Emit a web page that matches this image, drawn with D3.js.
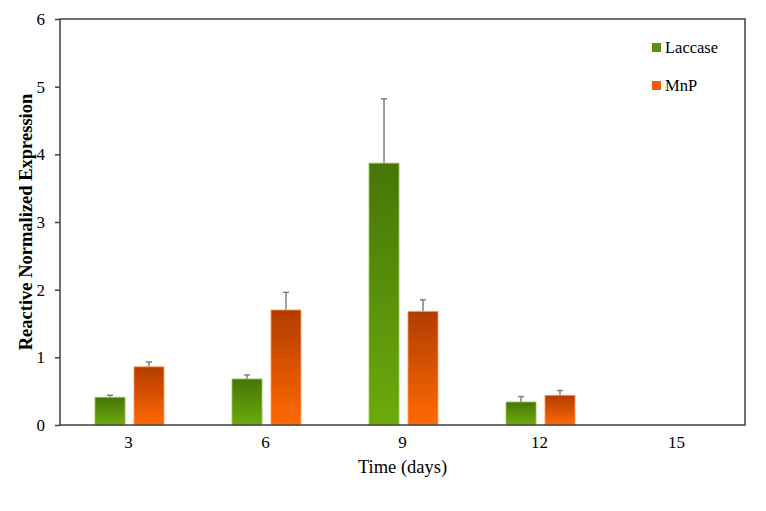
<!DOCTYPE html>
<html>
<head>
<meta charset="utf-8">
<script src="https://cdn.jsdelivr.net/npm/d3@7"></script>
<style>
  body { margin: 0; background: #fff; }
  svg { display: block; }
</style>
</head>
<body>
<script>
// chart data
var days = ["3", "6", "9", "12", "15"];
var series = ["Laccase", "MnP"];
var laccase = [0.41, 0.68, 3.87, 0.34, 0];
var laccaseErr = [0.03, 0.06, 0.95, 0.08, 0];
var mnp = [0.86, 1.70, 1.68, 0.44, 0];
var mnpErr = [0.07, 0.26, 0.17, 0.07, 0];
var yTicks = [0, 1, 2, 3, 4, 5, 6];

var width = 766, height = 511;
var plotLeft = 60, plotRight = 745, plotTop = 19, plotBottom = 425;
var font = "'Liberation Serif', 'Times New Roman', serif";

var svg = d3.select("body").append("svg")
    .attr("width", width)
    .attr("height", height);

var defs = svg.append("defs");
function grad(id, c1, c2) {
    var g = defs.append("linearGradient")
        .attr("id", id)
        .attr("x1", 0).attr("y1", 0)
        .attr("x2", 0).attr("y2", 1);
    g.append("stop").attr("offset", "0%").attr("stop-color", c1);
    g.append("stop").attr("offset", "100%").attr("stop-color", c2);
}
grad("gGreen", "#467508", "#6cab0c");
grad("gOrange", "#b23c00", "#ff6a00");

var fills = { Laccase: "url(#gGreen)", MnP: "url(#gOrange)" };
var strokes = { Laccase: "#9cc84a", MnP: "#ffa060" };
var legendColors = { Laccase: "#5a8f12", MnP: "#f25a10" };

var x = d3.scaleBand().domain(days).range([plotLeft, plotRight]);
var xs = d3.scaleBand().domain(series).range([35, 104]).paddingInner(0.23);
var y = d3.scaleLinear().domain([0, 6]).range([plotBottom, plotTop]);

var rows = days.map(function(d, i) {
    return [
        { day: d, key: "Laccase", v: laccase[i], e: laccaseErr[i] },
        { day: d, key: "MnP", v: mnp[i], e: mnpErr[i] }
    ];
});

var groups = svg.selectAll("g.grp")
    .data(rows)
    .enter().append("g")
    .attr("class", "grp")
    .attr("transform", function(d, i) { return "translate(" + x(days[i]) + ",0)"; });

var bars = groups.selectAll("g.bar")
    .data(function(d) { return d.filter(function(b) { return b.v > 0; }); })
    .enter().append("g")
    .attr("class", "bar");

// error bars (upper only)
bars.append("line")
    .attr("x1", function(d) { return xs(d.key) + xs.bandwidth() / 2; })
    .attr("x2", function(d) { return xs(d.key) + xs.bandwidth() / 2; })
    .attr("y1", function(d) { return y(d.v); })
    .attr("y2", function(d) { return y(d.v + d.e); })
    .attr("stroke", "#808080")
    .attr("stroke-width", 1.5);
bars.append("line")
    .attr("x1", function(d) { return xs(d.key) + xs.bandwidth() / 2 - 3; })
    .attr("x2", function(d) { return xs(d.key) + xs.bandwidth() / 2 + 3; })
    .attr("y1", function(d) { return y(d.v + d.e); })
    .attr("y2", function(d) { return y(d.v + d.e); })
    .attr("stroke", "#808080")
    .attr("stroke-width", 1.5);

bars.append("rect")
    .attr("x", function(d) { return xs(d.key); })
    .attr("width", xs.bandwidth())
    .attr("y", function(d) { return y(d.v); })
    .attr("height", function(d) { return plotBottom - y(d.v); })
    .attr("fill", function(d) { return fills[d.key]; })
    .attr("stroke", function(d) { return strokes[d.key]; })
    .attr("stroke-width", 0.8);

// frame
svg.append("rect")
    .attr("x", plotLeft).attr("y", plotTop)
    .attr("width", plotRight - plotLeft).attr("height", plotBottom - plotTop)
    .attr("fill", "none")
    .attr("stroke", "#404040")
    .attr("stroke-width", 1.5);

// y axis
var yAxis = svg.append("g")
    .attr("transform", "translate(" + plotLeft + ",0)")
    .call(d3.axisLeft(y).tickValues(yTicks).tickSize(5).tickPadding(10).tickFormat(d3.format("d")));
yAxis.select(".domain").remove();
yAxis.selectAll(".tick line").attr("stroke", "#404040").attr("stroke-width", 1.5);
yAxis.selectAll(".tick text")
    .attr("fill", "#000")
    .style("font-family", font)
    .style("font-size", "17px");

// x axis
var xAxis = svg.append("g")
    .attr("transform", "translate(0," + plotBottom + ")")
    .call(d3.axisBottom(x).tickSize(0).tickPadding(11));
xAxis.select(".domain").remove();
xAxis.selectAll(".tick text")
    .attr("fill", "#000")
    .style("font-family", font)
    .style("font-size", "17px");

// axis titles
svg.append("text")
    .attr("x", (plotLeft + plotRight) / 2)
    .attr("y", 473)
    .attr("text-anchor", "middle")
    .style("font-family", font)
    .style("font-size", "18.5px")
    .text("Time (days)");

svg.append("text")
    .attr("transform", "translate(32," + ((plotTop + plotBottom) / 2) + ") rotate(-90)")
    .attr("text-anchor", "middle")
    .style("font-family", font)
    .style("font-size", "18.5px")
    .style("font-weight", "bold")
    .text("Reactive Normalized Expression");

// legend
var legend = svg.selectAll("g.leg")
    .data(series)
    .enter().append("g")
    .attr("class", "leg")
    .attr("transform", function(d, i) { return "translate(652," + (43 + i * 38) + ")"; });
legend.append("rect")
    .attr("width", 9).attr("height", 9)
    .attr("fill", function(d) { return legendColors[d]; });
legend.append("text")
    .attr("x", 13)
    .attr("y", 9.5)
    .style("font-family", font)
    .style("font-size", "16.5px")
    .text(function(d) { return d; });
</script>
</body>
</html>
